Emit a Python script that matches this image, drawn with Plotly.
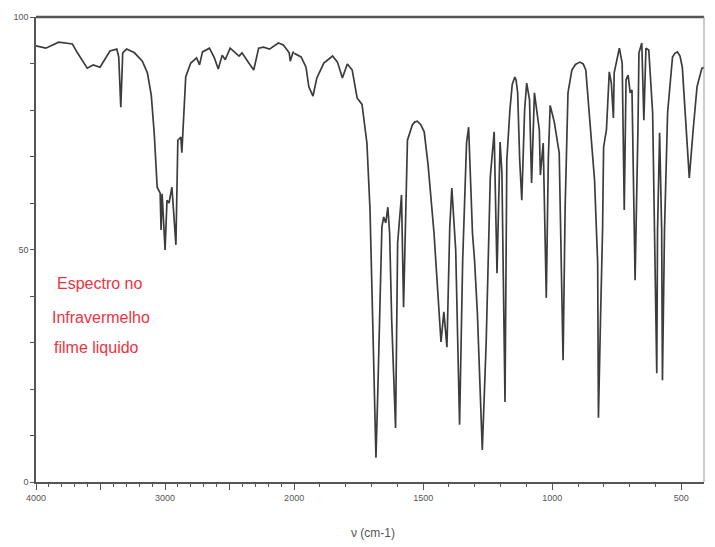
import plotly.graph_objects as go

# Wavenumber (cm-1) and transmittance (%)
wavenumber = [
    4000, 3924, 3824, 3718, 3679, 3603, 3557, 3504, 3427, 3374, 3359, 3343, 3328, 3298,
    3237, 3176, 3137, 3107, 3084, 3061, 3038, 3031, 3023, 3000, 2985, 2969, 2947, 2916,
    2901, 2878, 2870, 2840, 2801, 2756, 2733, 2710, 2656, 2618, 2588, 2557, 2534, 2496,
    2427, 2404, 2351, 2313, 2275, 2237, 2191, 2122, 2084, 2038, 2030, 2008, 2000,
    1973, 1954, 1943, 1927, 1912, 1885, 1851, 1832, 1813, 1794, 1775, 1756, 1737, 1718,
    1706, 1695, 1683, 1676, 1660, 1653, 1645, 1637, 1630, 1622, 1607, 1599, 1584, 1576,
    1569, 1561, 1542, 1533, 1523, 1510, 1496, 1481, 1458, 1439, 1431, 1420, 1408, 1397, 1389, 1374,
    1359, 1347, 1332, 1324, 1317, 1309, 1301, 1290, 1271, 1256, 1240, 1225, 1214, 1202,
    1195, 1183, 1176, 1164, 1155, 1145, 1140, 1134, 1126, 1118, 1107, 1099, 1088, 1080, 1069, 1050,
    1046, 1035, 1023, 1015, 1008, 992, 973, 969, 958, 950, 939, 924, 910, 893, 880, 870, 855, 843,
    836, 824, 821, 813, 805, 801, 790, 779, 771, 763, 760, 740, 729, 721, 714, 706, 698,
    691, 687, 679, 668, 664, 653, 645, 637, 626, 611, 603, 595, 592, 584, 576, 573, 565,
    553, 534, 525, 515, 505, 496, 481, 469, 454, 439, 420, 412,
]
transmittance = [
    93.8, 93.3, 94.6, 94.2, 92.3, 89.0, 89.7, 89.2, 92.7, 93.1, 91.4, 80.6, 92.3, 93.1,
    92.3, 90.5, 88.0, 83.2, 75.0, 63.4, 62.1, 54.2, 62.0, 49.9, 60.6, 60.0, 63.4, 51.0,
    73.5, 74.2, 70.8, 87.1, 90.1, 91.2, 89.7, 92.5, 93.3, 91.2, 88.8, 91.8, 90.8, 93.3,
    91.6, 92.3, 90.1, 88.6, 93.3, 93.5, 93.1, 94.4, 94.0, 92.3, 90.5, 92.5, 92.2,
    91.4, 89.2, 85.0, 83.0, 86.9, 90.1, 91.6, 90.3, 86.9, 89.9, 88.6, 82.6, 81.2, 72.9,
    58.5, 33.3, 5.2, 19.0, 54.8, 57.0, 55.7, 59.1, 53.5, 34.8, 11.6, 51.4, 61.7, 37.6,
    54.8, 73.5, 76.8, 77.4, 77.6, 76.9, 75.3, 68.2, 53.5, 36.3, 30.1, 36.6, 29.0, 54.8, 63.2, 49.9,
    12.3, 47.7, 72.9, 76.3, 65.6, 53.5, 47.7, 36.3, 6.9, 29.9, 65.6, 75.3, 44.9, 73.1,
    66.5, 17.2, 69.2, 80.0, 85.5, 87.1, 86.4, 83.7, 69.2, 60.6, 80.0, 85.8, 82.2, 64.3, 83.7, 75.7,
    66.0, 72.9, 39.6, 69.9, 81.0, 77.4, 70.8, 59.1, 26.2, 59.1, 83.7, 88.6, 89.8, 90.3, 89.9, 88.6, 77.8, 69.7,
    64.9, 47.1, 13.8, 35.0, 54.2, 72.0, 75.7, 88.2, 85.8, 78.3, 88.0, 93.3, 90.1, 58.5, 86.5, 87.5, 83.7,
    84.3, 72.0, 43.4, 75.7, 92.3, 94.4, 77.8, 93.3, 92.9, 79.4, 54.2, 23.4, 54.2, 75.1, 54.2, 21.9, 54.2,
    79.4, 91.4, 92.2, 92.5, 91.6, 89.2, 75.7, 65.4, 75.7, 85.0, 89.0, 89.1,
]

x_major_left = [4000, 3500, 3000, 2500, 2000]
x_labels_left = ["4000", "", "3000", "", "2000"]
x_major_right = [1500, 1000, 500]
x_labels_right = ["1500", "1000", "500"]
y_ticks = list(range(0, 101, 10))
y_labels = ["0", "", "", "", "", "50", "", "", "", "", "100"]
note_lines = ["Espectro no", "Infravermelho", "filme liquido"]
x_title = "ν (cm-1)"

split = 2000
hi_x = [w for w in wavenumber if w >= split]
hi_y = [t for w, t in zip(wavenumber, transmittance) if w >= split]
lo_x = [w for w in wavenumber if w <= split]
lo_y = [t for w, t in zip(wavenumber, transmittance) if w <= split]

line_style = dict(color="#3c3c3c", width=1.7)
fig = go.Figure()
fig.add_trace(go.Scatter(x=hi_x, y=hi_y, mode="lines", line=line_style, xaxis="x", yaxis="y"))
fig.add_trace(go.Scatter(x=lo_x, y=lo_y, mode="lines", line=line_style, xaxis="x2", yaxis="y"))

W, H = 715, 547
L, R, T, B = 36, 1, 17, 65
pw = W - L - R
d = (298 - L) / pw

tick_font = dict(family="Liberation Sans, Arial, sans-serif", size=9, color="#555")
axis_common = dict(
    showgrid=False, zeroline=False, showline=True, linecolor="#555", linewidth=1.5,
    ticks="outside", ticklen=6, tickcolor="#555", tickwidth=1.2, tickfont=tick_font,
)

fig.update_layout(
    width=W, height=H,
    margin=dict(l=L, r=R, t=T, b=B),
    plot_bgcolor="white", paper_bgcolor="white",
    showlegend=False,
    xaxis=dict(
        domain=[0, d], range=[4000, 2000], anchor="y",
        tickmode="array", tickvals=x_major_left, ticktext=x_labels_left,
        minor=dict(tickmode="linear", tick0=2000, dtick=100, ticks="outside", ticklen=3,
                   tickcolor="#555", tickwidth=1.2),
        **axis_common,
    ),
    xaxis2=dict(
        domain=[d, 1], range=[2000, 412], anchor="y",
        tickmode="array", tickvals=x_major_right, ticktext=x_labels_right,
        minor=dict(tickmode="linear", tick0=2000, dtick=100, ticks="outside", ticklen=3,
                   tickcolor="#555", tickwidth=1.2),
        **axis_common,
    ),
    yaxis=dict(
        range=[0, 100], anchor="x",
        tickmode="array", tickvals=y_ticks, ticktext=y_labels,
        **{**axis_common, "ticklen": 4},
    ),
)

# frame: top and right edges
fig.add_shape(type="line", xref="paper", yref="paper", x0=0, x1=1, y0=1, y1=1,
              line=dict(color="#555", width=2.5))
fig.add_shape(type="line", xref="paper", yref="paper", x0=1, x1=1, y0=0, y1=1,
              line=dict(color="#999", width=1))

note_pos = [(55, 283), (50, 317), (52, 347)]
for txt, (px, py) in zip(note_lines, note_pos):
    fig.add_annotation(
        text=txt, xref="paper", yref="paper",
        x=(px - L) / pw, y=(482 - py) / 465,
        xanchor="left", yanchor="middle", showarrow=False,
        font=dict(family="Liberation Sans, Arial, sans-serif", size=16, color="#ee3340"),
    )

fig.add_annotation(
    text=x_title, xref="paper", yref="paper",
    x=(378 - L) / pw, y=(482 - 533) / 465,
    xanchor="center", yanchor="middle", showarrow=False,
    font=dict(family="Liberation Sans, Arial, sans-serif", size=12, color="#555"),
)

fig.write_html("out.html")
